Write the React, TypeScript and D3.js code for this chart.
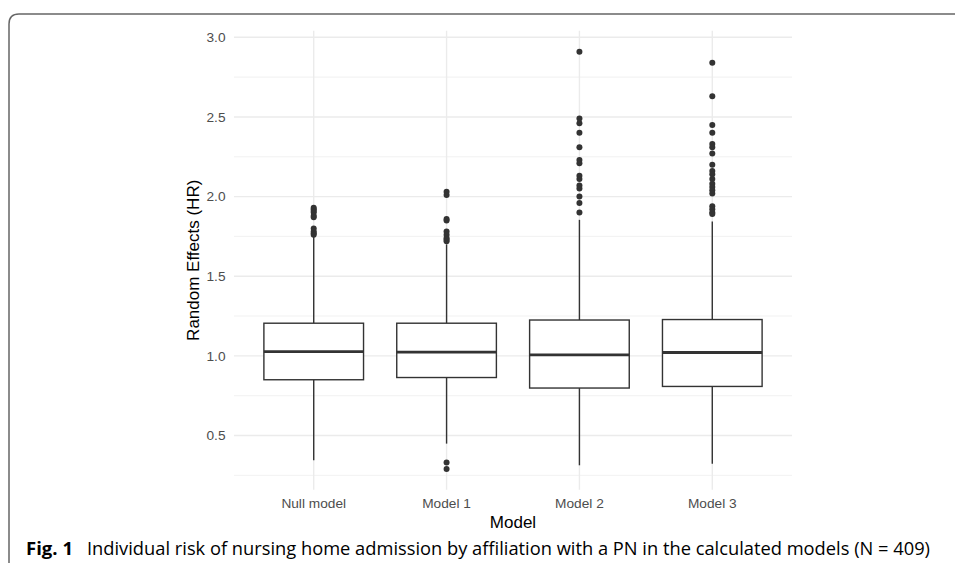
import React from "react";
import * as d3 from "d3";

const categories = ["Null model", "Model 1", "Model 2", "Model 3"];
const q1 = [0.85, 0.864, 0.798, 0.808];
const medians = [1.026, 1.024, 1.006, 1.021];
const q3 = [1.205, 1.205, 1.225, 1.228];
const whiskerLow = [0.345, 0.449, 0.313, 0.323];
const whiskerHigh = [1.75, 1.70, 1.854, 1.843];
const outliers: number[][] = [
  [1.93, 1.92, 1.91, 1.90, 1.88, 1.87, 1.80, 1.78, 1.77, 1.76],
  [2.03, 2.01, 1.86, 1.85, 1.78, 1.76, 1.74, 1.73, 1.72, 0.33, 0.29],
  [2.91, 2.49, 2.46, 2.40, 2.31, 2.23, 2.21, 2.13, 2.11, 2.07, 2.05, 2.0, 1.96, 1.90],
  [2.84, 2.63, 2.45, 2.40, 2.33, 2.31, 2.27, 2.20, 2.16, 2.14, 2.11, 2.08, 2.06, 2.04, 2.02, 1.94, 1.92, 1.90, 1.89],
];
const majorTicks = [0.5, 1.0, 1.5, 2.0, 2.5, 3.0];
const minorTicks = [0.25, 0.75, 1.25, 1.75, 2.25, 2.75];
const yDomain = [0.159, 3.041];

const W = 955;
const H = 563;
const panelLeft = 234;
const panelRight = 792;

const y = d3.scaleLinear().domain([0.5, 3.0]).range([435.5, 37.3]);
const x = d3.scalePoint<string>().domain(categories).range([panelLeft, panelRight]).padding(0.6);
const panelTop = y(yDomain[1]);
const panelBottom = y(yDomain[0]);
const boxW = x.step() * 0.75;

const chartFont = "'Liberation Sans', Arial, sans-serif";
const capFont = "'Open Sans', 'Noto Sans', sans-serif";
const ink = "#333333";

export default function App() {
  return (
    <svg
      width={W}
      height={H}
      style={{ position: "absolute", left: 0, top: 0, background: "#fff" }}
    >
      {/* frame */}
      <path
        d={`M 9 ${H} L 9 24 Q 9 14 19 14 L ${W} 14`}
        fill="none"
        stroke="#666"
        strokeWidth={1.5}
      />
      {/* grid */}
      {minorTicks.map((t) => (
        <line key={"mi" + t} x1={panelLeft} x2={panelRight} y1={y(t)} y2={y(t)} stroke="#efefef" strokeWidth={0.9} />
      ))}
      {majorTicks.map((t) => (
        <line key={"ma" + t} x1={panelLeft} x2={panelRight} y1={y(t)} y2={y(t)} stroke="#ebebeb" strokeWidth={1.4} />
      ))}
      {categories.map((c) => (
        <line key={"v" + c} x1={x(c)} x2={x(c)} y1={panelTop} y2={panelBottom} stroke="#ebebeb" strokeWidth={1.4} />
      ))}
      {/* boxes */}
      {categories.map((c, i) => {
        const cx = x(c)!;
        return (
          <g key={"b" + c}>
            <line x1={cx} x2={cx} y1={y(q3[i])} y2={y(whiskerHigh[i])} stroke={ink} strokeWidth={1.4} />
            <line x1={cx} x2={cx} y1={y(q1[i])} y2={y(whiskerLow[i])} stroke={ink} strokeWidth={1.4} />
            <rect
              x={cx - boxW / 2}
              y={y(q3[i])}
              width={boxW}
              height={y(q1[i]) - y(q3[i])}
              fill="#fff"
              stroke={ink}
              strokeWidth={1.4}
            />
            <line x1={cx - boxW / 2} x2={cx + boxW / 2} y1={y(medians[i])} y2={y(medians[i])} stroke={ink} strokeWidth={2.8} />
            {outliers[i].map((v, j) => (
              <circle key={j} cx={cx} cy={y(v)} r={3} fill={ink} />
            ))}
          </g>
        );
      })}
      {/* y tick labels */}
      {majorTicks.map((t) => (
        <text
          key={"yl" + t}
          x={225.5}
          y={y(t)}
          dy="0.35em"
          textAnchor="end"
          fontFamily={chartFont}
          fontSize={13.7}
          fill="#4d4d4d"
        >
          {d3.format(".1f")(t)}
        </text>
      ))}
      {/* x tick labels */}
      {categories.map((c) => (
        <text
          key={"xl" + c}
          x={x(c)}
          y={507.5}
          textAnchor="middle"
          fontFamily={chartFont}
          fontSize={13.7}
          fill="#4d4d4d"
        >
          {c}
        </text>
      ))}
      {/* axis titles */}
      <text
        x={(panelLeft + panelRight) / 2}
        y={527.5}
        textAnchor="middle"
        fontFamily={chartFont}
        fontSize={17}
        fill="#000"
      >
        Model
      </text>
      <text
        transform={`translate(199, ${(panelTop + panelBottom) / 2}) rotate(-90)`}
        textAnchor="middle"
        fontFamily={chartFont}
        fontSize={17}
        fill="#000"
      >
        Random Effects (HR)
      </text>
      {/* caption */}
      <text
        x={26}
        y={555}
        fontFamily={capFont}
        fontWeight="bold"
        fontSize={18}
        fill="#000"
        textLength={47}
        lengthAdjust="spacingAndGlyphs"
      >
        Fig. 1
      </text>
      <text
        x={87}
        y={555}
        fontFamily={capFont}
        fontSize={18}
        fill="#000"
        textLength={843}
        lengthAdjust="spacingAndGlyphs"
      >
        Individual risk of nursing home admission by affiliation with a PN in the calculated models (N = 409)
      </text>
    </svg>
  );
}
